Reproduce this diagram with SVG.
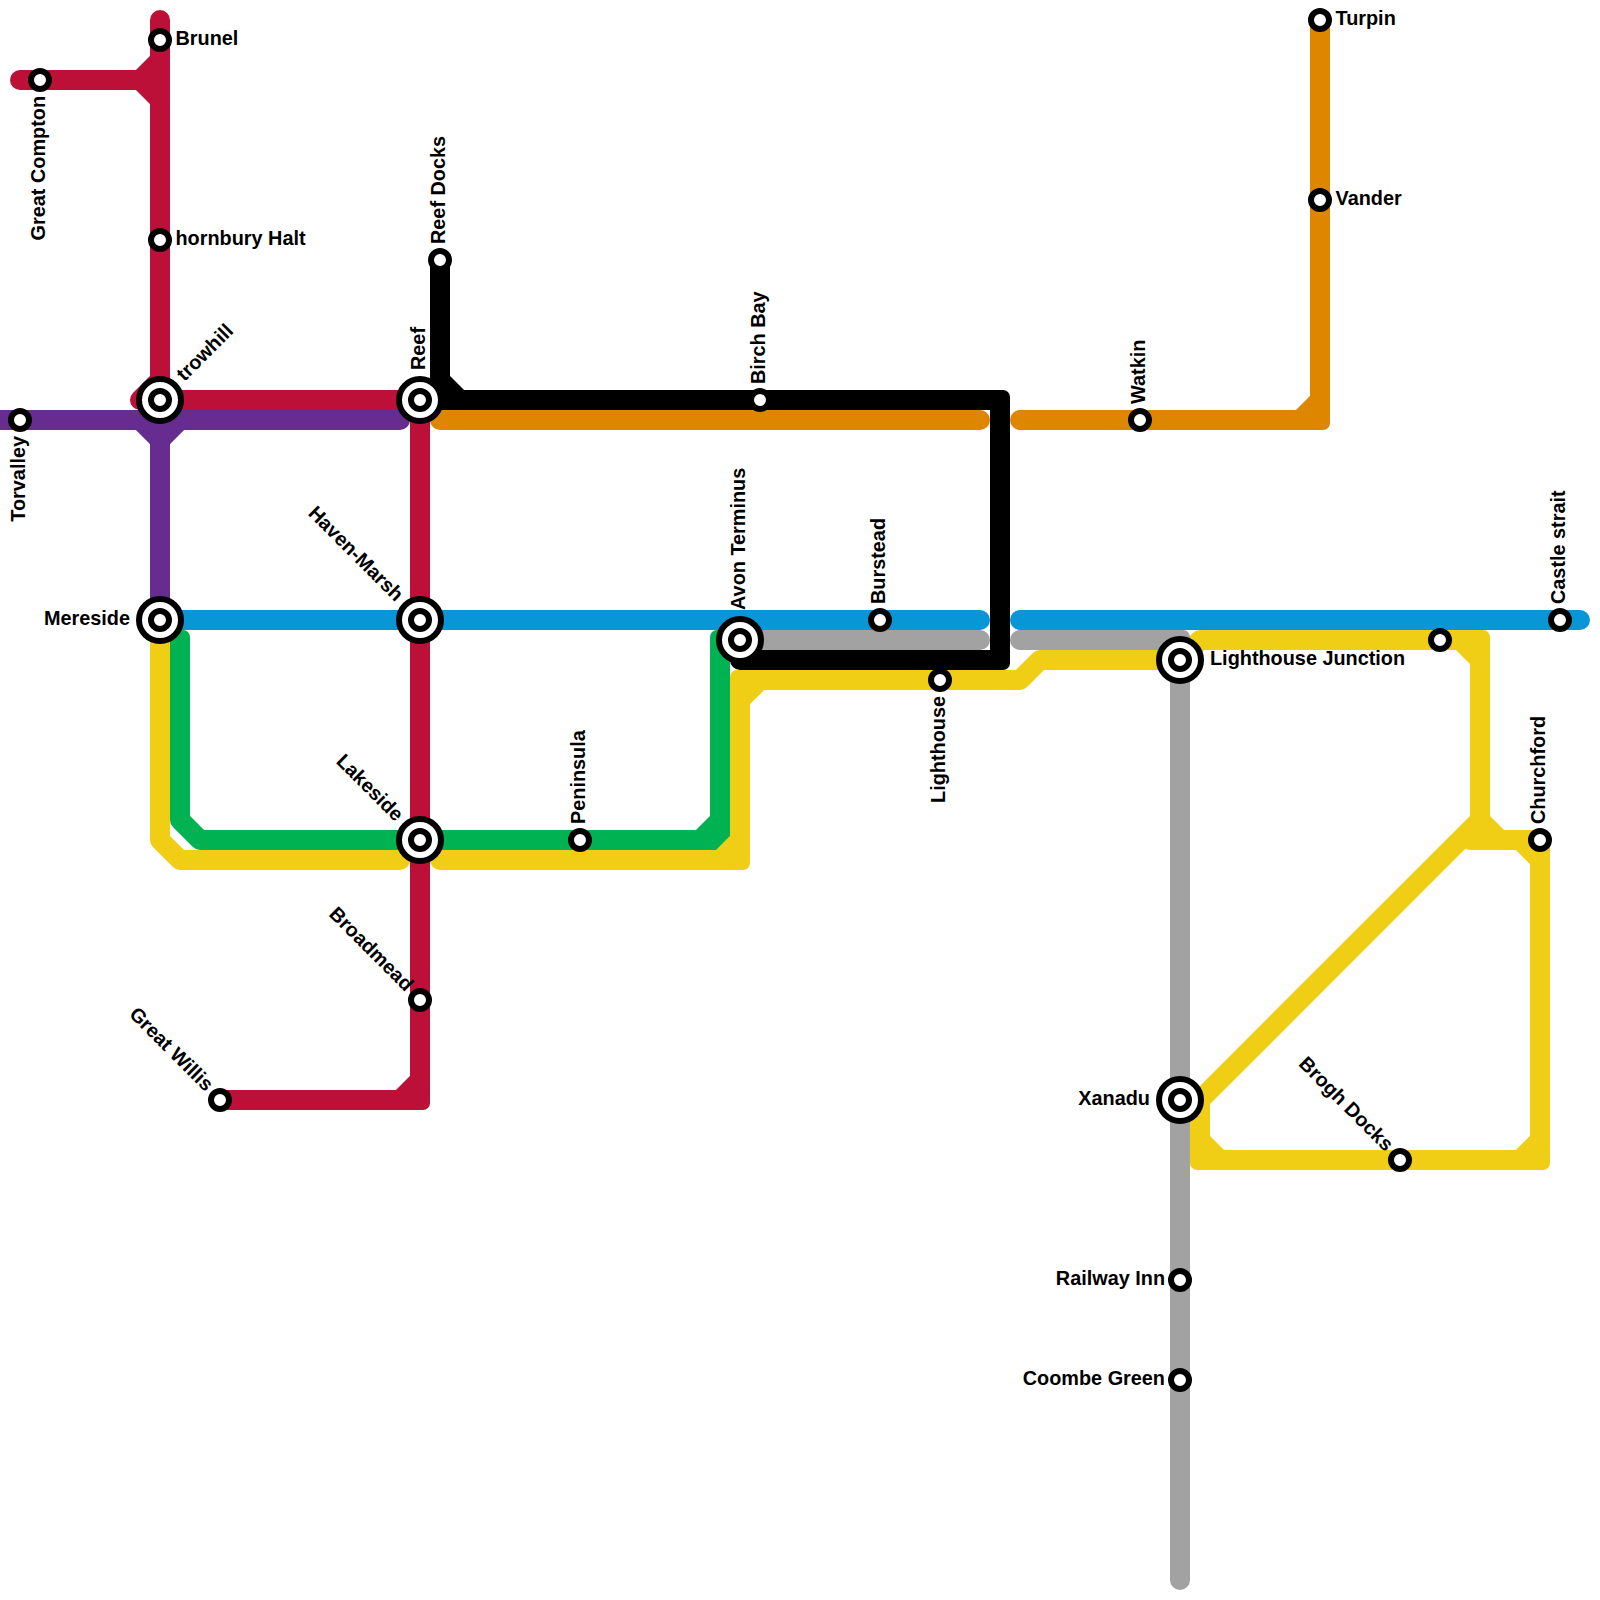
<svg xmlns="http://www.w3.org/2000/svg" width="1600" height="1600" viewBox="0 0 1600 1600">
<style>
.l{fill:none;stroke-width:20;stroke-linecap:round;stroke-linejoin:round}
.b{stroke-linecap:butt}
.red{stroke:#bd1038}.pur{stroke:#662c90}.blu{stroke:#0896d7}.grn{stroke:#00b251}.yel{stroke:#f0ce15}.gry{stroke:#a2a2a2}.org{stroke:#df8600}.blk{stroke:#000}
.o{fill:#fff;stroke:#000;stroke-width:6}
.c{width:20px;height:20px;rx:7px}
text{font-family:"Liberation Sans",Arial,sans-serif;font-weight:bold;font-size:19.85px;fill:#000}
.e{text-anchor:end}
</style>
<rect width="1600" height="1600" fill="#fff"/>
<g id="connectors">
<g id="line-red">
<path class="l red" d="M20,80H160"/>
<path class="l red b" d="M140,80L160,60M140,80L160,100"/>
<path class="l red" d="M160,20V400"/>
<path class="l red" d="M160,380L140,400H420V1100H220"/>
<path class="l red b" d="M400,1100L420,1080"/>
<rect class="c" x="410" y="1090" fill="#bd1038"/>
</g>
<g id="line-purple">
<path class="l pur" d="M-10,420H400"/>
<path class="l pur" d="M160,620V440"/>
<path class="l pur b" d="M140,420L160,440L180,420"/>
</g>
<g id="line-blue">
<path class="l blu" d="M160,620H980"/>
<path class="l blu" d="M1020,620H1580"/>
</g>
<g id="line-green">
<path class="l grn" d="M160,640H180V820L200,840H720V640H740"/>
<path class="l grn b" d="M700,840L720,820"/>
<rect class="c" x="170" y="630" fill="#00b251"/>
<rect class="c" x="710" y="630" fill="#00b251"/>
</g>
<g id="line-yellow">
<path class="l yel" d="M160,620V840L180,860H400"/>
<path class="l yel" d="M440,860H740V680H1020L1040,660H1180L1200,640H1480V820"/>
<path class="l yel b" d="M720,860L740,840M740,700L760,680M1460,640L1480,660"/>
<path class="l yel" d="M1480,820L1200,1100V1160H1540V840H1470"/>
<path class="l yel b" d="M1480,820L1500,840M1520,840L1540,860M1540,1140L1520,1160M1200,1140L1220,1160"/>
<g fill="#f0ce15">
<rect class="c" x="730" y="850"/>
<rect class="c" x="730" y="670"/>
<rect class="c" x="1470" y="630"/>
<rect class="c" x="1190" y="1150"/>
<rect class="c" x="1530" y="1150"/>
<rect class="c" x="1530" y="830"/>
</g>
</g>
<g id="line-grey">
<path class="l gry" d="M740,640H980"/>
<path class="l gry" d="M1020,640H1180V1580"/>
<rect class="c" x="1170" y="630" fill="#a2a2a2"/>
</g>
<g id="line-orange">
<path class="l org" d="M440,420H980"/>
<path class="l org" d="M1020,420H1320V20"/>
<path class="l org b" d="M1300,420L1320,400"/>
<rect class="c" x="1310" y="410" fill="#df8600"/>
</g>
<g id="line-black">
<path class="l blk" d="M440,260V400H1000V660H740"/>
<path class="l blk b" d="M440,380L460,400"/>
<rect class="c" x="990" y="390" fill="#000"/>
<rect class="c" x="990" y="650" fill="#000"/>
</g>
</g>
<g id="brunel"><circle class="o" cx="160" cy="40" r="9"/><text x="175.5" y="45">Brunel</text></g>
<g id="great-compton"><circle class="o" cx="40" cy="80" r="9"/><text class="e" transform="translate(45,96) rotate(-90)">Great Compton</text></g>
<g id="thornbury-halt"><circle class="o" cx="160" cy="240" r="9"/><text x="175.5" y="245">hornbury Halt</text></g>
<g id="strowhill"><circle class="o" cx="160" cy="400" r="21"/><circle class="o" cx="160" cy="400" r="9"/><text transform="translate(184.5,382) rotate(-45)">trowhill</text></g>
<g id="torvalley"><circle class="o" cx="20" cy="420" r="9"/><text class="e" transform="translate(25,436) rotate(-90)">Torvalley</text></g>
<g id="reef"><circle class="o" cx="420" cy="400" r="21"/><circle class="o" cx="420" cy="400" r="9"/><text transform="translate(425,370) rotate(-90)">Reef</text></g>
<g id="reef-docks"><circle class="o" cx="440" cy="260" r="9"/><text transform="translate(445,244) rotate(-90)">Reef Docks</text></g>
<g id="birch-bay"><circle class="o" cx="760" cy="400" r="9"/><text transform="translate(765,384) rotate(-90)">Birch Bay</text></g>
<g id="watkin"><circle class="o" cx="1140" cy="420" r="9"/><text transform="translate(1145,404) rotate(-90)">Watkin</text></g>
<g id="turpin"><circle class="o" cx="1320" cy="20" r="9"/><text x="1335.5" y="25">Turpin</text></g>
<g id="vander"><circle class="o" cx="1320" cy="200" r="9"/><text x="1335.5" y="205">Vander</text></g>
<g id="mereside"><circle class="o" cx="160" cy="620" r="21"/><circle class="o" cx="160" cy="620" r="9"/><text class="e" x="130" y="625">Mereside</text></g>
<g id="haven-marsh"><circle class="o" cx="420" cy="620" r="21"/><circle class="o" cx="420" cy="620" r="9"/><text class="e" transform="translate(395.3,602.3) rotate(45)">Haven-Marsh</text></g>
<g id="lakeside"><circle class="o" cx="420" cy="840" r="21"/><circle class="o" cx="420" cy="840" r="9"/><text class="e" transform="translate(395.3,822.3) rotate(45)">Lakeside</text></g>
<g id="peninsula"><circle class="o" cx="580" cy="840" r="9"/><text transform="translate(585,824) rotate(-90)">Peninsula</text></g>
<g id="broadmead"><circle class="o" cx="420" cy="1000" r="9"/><text class="e" transform="translate(405.2,992.2) rotate(45)">Broadmead</text></g>
<g id="great-willis"><circle class="o" cx="220" cy="1100" r="9"/><text class="e" transform="translate(205.2,1092.2) rotate(45)">Great Willis</text></g>
<g id="avon-terminus"><circle class="o" cx="740" cy="640" r="21"/><circle class="o" cx="740" cy="640" r="9"/><text transform="translate(745,610) rotate(-90)">Avon Terminus</text></g>
<g id="burstead"><circle class="o" cx="880" cy="620" r="9"/><text transform="translate(885,604) rotate(-90)">Burstead</text></g>
<g id="lighthouse"><circle class="o" cx="940" cy="680" r="9"/><text class="e" transform="translate(945,696) rotate(-90)">Lighthouse</text></g>
<g id="lighthouse-junction"><circle class="o" cx="1180" cy="660" r="21"/><circle class="o" cx="1180" cy="660" r="9"/><text x="1210" y="665">Lighthouse Junction</text></g>
<g id="unnamed-station"><circle class="o" cx="1440" cy="640" r="9"/></g>
<g id="castle-strait"><circle class="o" cx="1560" cy="620" r="9"/><text transform="translate(1565,604) rotate(-90)">Castle strait</text></g>
<g id="churchford"><circle class="o" cx="1540" cy="840" r="9"/><text transform="translate(1545,824) rotate(-90)">Churchford</text></g>
<g id="brogh-docks"><circle class="o" cx="1400" cy="1160" r="9"/><text class="e" transform="translate(1385.2,1152.2) rotate(45)">Brogh Docks</text></g>
<g id="xanadu"><circle class="o" cx="1180" cy="1100" r="21"/><circle class="o" cx="1180" cy="1100" r="9"/><text class="e" x="1150" y="1105">Xanadu</text></g>
<g id="railway-inn"><circle class="o" cx="1180" cy="1280" r="9"/><text class="e" x="1165" y="1285">Railway Inn</text></g>
<g id="coombe-green"><circle class="o" cx="1180" cy="1380" r="9"/><text class="e" x="1165" y="1385">Coombe Green</text></g>
</svg>
